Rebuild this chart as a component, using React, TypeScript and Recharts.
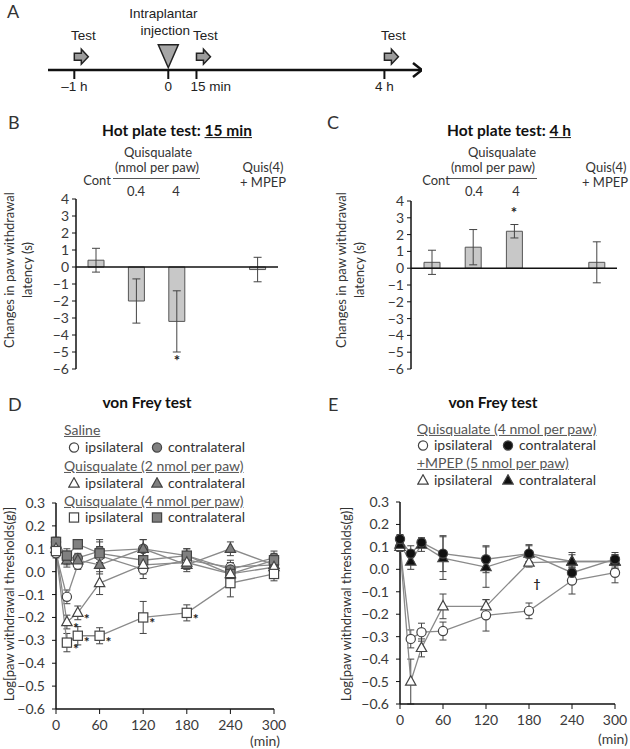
import React from "react";
import {
  ComposedChart,
  ScatterChart,
  Scatter,
  Bar,
  Line,
  XAxis,
  YAxis,
  ErrorBar,
  ReferenceLine,
} from "recharts";

// ---------- panel A: experiment timeline ----------
const TIMELINE_TICKS = [-1, 0, 0.3, 2.3];
const TIMELINE_LABELS = ["–1 h", "0", "15 min", "4 h"];
const TEST_AT = [-1, 0.3, 2.3];
const INJECTION_AT = [0];

// ---------- panels B / C: hot plate ----------
const HOT_GROUPS = ["Cont", "0.4", "4", "", "Quis(4) + MPEP"];
const HOT_TICKS = [-6, -5, -4, -3, -2, -1, 0, 1, 2, 3, 4];
const HOT15_MEAN = [0.4, -2.0, -3.2, null, -0.15];
const HOT15_SEM = [0.7, 1.3, 1.8, null, 0.72];
const HOT15_SIG = [false, false, true, false, false];
const HOT4H_MEAN = [0.35, 1.25, 2.2, null, 0.35];
const HOT4H_SEM = [0.72, 1.05, 0.4, null, 1.22];
const HOT4H_SIG = [false, false, true, false, false];

// ---------- panels D / E: von Frey ----------
const TIME_MIN = [0, 15, 30, 60, 120, 180, 240, 300];
const TIME_TICKS = [0, 60, 120, 180, 240, 300];
const VF_TICKS = [-0.6, -0.5, -0.4, -0.3, -0.2, -0.1, 0, 0.1, 0.2, 0.3];

const D_SAL_IPSI = [0.08, -0.11, 0.03, 0.07, 0.01, 0.05, 0.02, 0.03];
const D_SAL_IPSI_ERR = [0.02, 0.03, 0.02, 0.04, 0.04, 0.03, 0.03, 0.03];
const D_SAL_CONTRA = [0.13, 0.06, 0.06, 0.09, 0.1, 0.07, 0.01, 0.06];
const D_SAL_CONTRA_ERR = [0.02, 0.03, 0.02, 0.05, 0.04, 0.03, 0.03, 0.03];
const D_Q2_IPSI = [0.1, -0.22, -0.18, -0.05, 0.03, 0.04, -0.01, 0.02];
const D_Q2_IPSI_ERR = [0.02, 0.03, 0.03, 0.05, 0.04, 0.03, 0.03, 0.03];
const D_Q2_IPSI_MARK = [null, "*", "*", null, null, null, null, null];
const D_Q2_CONTRA = [0.12, 0.05, 0.05, 0.03, 0.1, 0.03, 0.1, 0.03];
const D_Q2_CONTRA_ERR = [0.02, 0.03, 0.02, 0.04, 0.04, 0.03, 0.03, 0.03];
const D_Q4_IPSI = [0.09, -0.31, -0.28, -0.28, -0.2, -0.18, -0.05, -0.01];
const D_Q4_IPSI_ERR = [0.02, 0.04, 0.04, 0.035, 0.07, 0.035, 0.06, 0.03];
const D_Q4_IPSI_MARK = [null, "*", "*", "*", "*", "*", null, null];
const D_Q4_CONTRA = [0.13, 0.07, 0.12, 0.08, 0.05, 0.07, -0.01, 0.05];
const D_Q4_CONTRA_ERR = [0.02, 0.03, 0.02, 0.05, 0.05, 0.03, 0.03, 0.03];

const E_Q4_IPSI = [0.1, -0.31, -0.28, -0.275, -0.205, -0.185, -0.05, -0.015];
const E_Q4_IPSI_ERR = [0.02, 0.04, 0.04, 0.04, 0.07, 0.035, 0.06, 0.045];
const E_Q4_CONTRA = [0.135, 0.07, 0.12, 0.07, 0.045, 0.07, -0.015, 0.045];
const E_Q4_CONTRA_ERR = [0.02, 0.035, 0.02, 0.08, 0.06, 0.035, 0.025, 0.03];
const E_MPEP_IPSI = [0.1, -0.5, -0.35, -0.165, -0.165, 0.03, 0.035, 0.035];
const E_MPEP_IPSI_ERR = [0.02, 0.1, 0.04, 0.055, 0.03, 0.02, 0.03, 0.03];
const E_MPEP_IPSI_MARK = [null, null, null, null, null, "†", null, null];
const E_MPEP_CONTRA = [0.11, 0.035, 0.11, 0.05, 0.01, 0.07, 0.035, 0.035];
const E_MPEP_CONTRA_ERR = [0.02, 0.035, 0.03, 0.095, 0.09, 0.04, 0.04, 0.03];

const FONT = "Lato, 'Open Sans', sans-serif";
const NARROW = "'Liberation Sans Narrow', 'Liberation Sans', Arial, sans-serif";
const INK = "#333";
const LINE_GRAY = "#8a8a8a";
const minus = (s: string) => s.replace("-", "−");

function T({ x, y, children, size = 13, bold = false, anchor = "middle", color = INK, underline = false, family = FONT }: any) {
  const tx = anchor === "middle" ? "-50%" : anchor === "end" ? "-100%" : "0";
  return (
    <div
      style={{
        position: "absolute",
        left: x,
        top: y,
        transform: `translate(${tx}, -50%)`,
        fontSize: size,
        fontWeight: bold ? 700 : 400,
        color,
        fontFamily: family,
        whiteSpace: "nowrap",
        lineHeight: 1.15,
        textDecoration: underline ? "underline" : undefined,
      }}
    >
      {children}
    </div>
  );
}

function VLabel({ x, y, lines, size = 13 }: any) {
  return (
    <div
      style={{
        position: "absolute",
        left: x,
        top: y,
        transform: "translate(-50%, -50%) rotate(-90deg)",
        fontSize: size,
        color: INK,
        fontFamily: FONT,
        whiteSpace: "nowrap",
        textAlign: "center",
        lineHeight: 1.35,
      }}
    >
      {lines.map((l: string, i: number) => (
        <div key={i}>{l}</div>
      ))}
    </div>
  );
}

// ---------- markers ----------
function Marker({ cx, cy, mk, fill, stroke }: any) {
  if (mk === "circle") return <circle cx={cx} cy={cy} r={4.6} fill={fill} stroke={stroke} strokeWidth={1.2} />;
  if (mk === "square")
    return <rect x={cx - 4.6} y={cy - 4.6} width={9.2} height={9.2} fill={fill} stroke={stroke} strokeWidth={1.2} />;
  return (
    <polygon
      points={`${cx},${cy - 5.8} ${cx - 5.2},${cy + 3.6} ${cx + 5.2},${cy + 3.6}`}
      fill={fill}
      stroke={stroke}
      strokeWidth={1.2}
    />
  );
}

function makeDot(mk: string, fill: string, stroke: string, marks?: (string | null)[], dx = 9, dy = 11) {
  return (p: any) => {
    const { cx, cy, index } = p;
    if (cx == null || cy == null) return <g key={`d${index}`} />;
    const m = marks ? marks[index] : null;
    return (
      <g key={`d${index}`}>
        <Marker cx={cx} cy={cy} mk={mk} fill={fill} stroke={stroke} />
        {m && (
          <text x={cx + dx} y={cy + dy} textAnchor="middle" fontSize={m === "†" ? 12 : 14} fontWeight={700} fill="#222" fontFamily={FONT}>
            {m}
          </text>
        )}
      </g>
    );
  };
}

function LegendIcon({ mk, fill }: any) {
  return (
    <svg width={12} height={12} style={{ position: "absolute", left: -6, top: -6 }}>
      <Marker cx={6} cy={6.5} mk={mk} fill={fill} stroke="#444" />
    </svg>
  );
}

function LegendItem({ x, y, mk, fill, label }: any) {
  return (
    <>
      <div style={{ position: "absolute", left: x, top: y }}>
        <LegendIcon mk={mk} fill={fill} />
      </div>
      <T x={x + 11} y={y} anchor="start" size={14}>
        {label}
      </T>
    </>
  );
}

// ---------- panel A ----------
function TestArrow(p: any) {
  const { cx, cy } = p;
  return (
    <g>
      <polygon
        points={`${cx},${cy - 3.5} ${cx + 7},${cy - 3.5} ${cx + 7},${cy - 7.5} ${cx + 14},${cy} ${cx + 7},${cy + 7.5} ${cx + 7},${cy + 3.5} ${cx},${cy + 3.5}`}
        fill="#9c9c9c"
        stroke="#222"
        strokeWidth={1.5}
      />
      <text x={cx + 9} y={cy - 17} textAnchor="middle" fontSize={13.5} fill="#222" fontFamily={NARROW}>
        Test
      </text>
    </g>
  );
}

function Injection(p: any) {
  const { cx, cy } = p;
  return (
    <g>
      <polygon points={`${cx - 10},${cy - 12} ${cx + 10},${cy - 12} ${cx},${cy + 11}`} fill="#a6a6a6" stroke="#222" strokeWidth={1.5} />
      <text x={cx - 5} y={cy - 39} textAnchor="middle" fontSize={13.5} fill="#222" fontFamily={NARROW}>
        Intraplantar
      </text>
      <text x={cx - 3} y={cy - 22} textAnchor="middle" fontSize={13.5} fill="#222" fontFamily={NARROW}>
        injection
      </text>
    </g>
  );
}

function AxisHead(p: any) {
  const { cx, cy } = p;
  return <polyline points={`${cx - 9},${cy - 7} ${cx},${cy} ${cx - 9},${cy + 7}`} fill="none" stroke="#111" strokeWidth={2.5} />;
}

function TimelineTick(p: any) {
  const { x, y, payload } = p;
  const label = TIMELINE_LABELS[TIMELINE_TICKS.indexOf(payload.value)];
  const start = label === "15 min";
  return (
    <text x={start ? x - 6 : x} y={y + 10} textAnchor={start ? "start" : "middle"} fontSize={13.5} fill="#222" fontFamily={NARROW}>
      {label}
    </text>
  );
}

function Timeline() {
  const level = 0.19;
  const tests = TEST_AT.map((t) => ({ t, v: level }));
  const inj = INJECTION_AT.map((t) => ({ t, v: level }));
  return (
    <div style={{ position: "absolute", left: 0, top: 0 }}>
      <ScatterChart width={630} height={105} margin={{ top: 0, right: 208, bottom: 5, left: 48 }}>
        <XAxis
          type="number"
          dataKey="t"
          domain={[-1.28, 2.7]}
          ticks={TIMELINE_TICKS}
          interval={0}
          allowDataOverflow
          axisLine={{ stroke: "#111", strokeWidth: 2.5 }}
          tickLine={{ stroke: "#111", strokeWidth: 2 }}
          tickSize={9}
          tick={<TimelineTick />}
        />
        <YAxis type="number" dataKey="v" domain={[0, 1]} hide />
        <Scatter data={tests} shape={(p: any) => <TestArrow {...p} />} isAnimationActive={false} />
        <Scatter data={inj} shape={(p: any) => <Injection {...p} />} isAnimationActive={false} />
        <Scatter data={[{ t: 2.7, v: 0 }]} shape={(p: any) => <AxisHead {...p} />} isAnimationActive={false} />
      </ScatterChart>
    </div>
  );
}

// ---------- panels B / C ----------
function StarDot(p: any) {
  const { cx, cy, index } = p;
  if (cx == null || cy == null) return <g key={`s${index}`} />;
  return (
    <text key={`s${index}`} x={cx} y={cy + 6} textAnchor="middle" fontSize={15} fontWeight={700} fill="#222" fontFamily={FONT}>
      *
    </text>
  );
}

function HotPlate({ left, top, width, height, margin, mean, sem, sig, starGap }: any) {
  const data = HOT_GROUPS.map((g, i) => ({
    group: g,
    mean: mean[i],
    sem: sem[i],
    star: sig[i] ? (mean[i] < 0 ? mean[i] - sem[i] - starGap : mean[i] + sem[i] + starGap) : null,
  }));
  return (
    <div style={{ position: "absolute", left, top }}>
      <ComposedChart width={width} height={height} data={data} margin={margin}>
        <XAxis dataKey="group" type="category" hide />
        <YAxis
          type="number"
          domain={[-6, 4]}
          ticks={HOT_TICKS}
          interval={0}
          width={30}
          tickFormatter={(v: number) => minus(String(v))}
          axisLine={{ stroke: "#111", strokeWidth: 1.5 }}
          tickLine={{ stroke: "#111" }}
          tickSize={4}
          tickMargin={3}
          tick={{ fontSize: 14, fill: "#3a3a3a", fontFamily: FONT }}
        />
        <Bar dataKey="mean" barSize={16} fill="#c8c8c8" stroke="#555" strokeWidth={1} isAnimationActive={false}>
          <ErrorBar dataKey="sem" width={4} stroke="#444" strokeWidth={1} direction="y" />
        </Bar>
        <ReferenceLine y={0} stroke="#111" strokeWidth={1.5} />
        <Line dataKey="star" stroke="none" dot={StarDot} activeDot={false} isAnimationActive={false} />
      </ComposedChart>
    </div>
  );
}

// ---------- panels D / E ----------
function VonFrey({ left, top, width, height, margin, series }: any) {
  const data = TIME_MIN.map((t, i) => {
    const row: any = { t };
    series.forEach((s: any) => {
      row[s.key] = s.values[i];
      row[s.key + "E"] = s.err[i];
    });
    return row;
  });
  return (
    <div style={{ position: "absolute", left, top }}>
      <ComposedChart width={width} height={height} data={data} margin={margin}>
        <XAxis
          type="number"
          dataKey="t"
          domain={[0, 300]}
          ticks={TIME_TICKS}
          interval={0}
          axisLine={{ stroke: "#111", strokeWidth: 1.5 }}
          tickLine={{ stroke: "#111" }}
          tickSize={5}
          tickMargin={6}
          tick={{ fontSize: 14, fill: "#3a3a3a", fontFamily: FONT }}
        />
        <YAxis
          type="number"
          domain={[-0.6, 0.3]}
          ticks={VF_TICKS}
          interval={0}
          width={40}
          tickFormatter={(v: number) => minus(v.toFixed(1))}
          axisLine={{ stroke: "#111", strokeWidth: 1.5 }}
          tickLine={{ stroke: "#111" }}
          tickSize={4}
          tickMargin={7}
          tick={{ fontSize: 14, fill: "#3a3a3a", fontFamily: FONT }}
        />
        {series.map((s: any) => (
          <Line
            key={s.key}
            dataKey={s.key}
            stroke={LINE_GRAY}
            strokeWidth={1.3}
            dot={makeDot(s.mk, s.fill, "#444", s.marks, s.mdx, s.mdy)}
            activeDot={false}
            isAnimationActive={false}
          >
            <ErrorBar dataKey={s.key + "E"} width={3.5} stroke="#444" strokeWidth={1} direction="y" />
          </Line>
        ))}
      </ComposedChart>
    </div>
  );
}

const D_SERIES = [
  { key: "si", values: D_SAL_IPSI, err: D_SAL_IPSI_ERR, mk: "circle", fill: "#fff" },
  { key: "sc", values: D_SAL_CONTRA, err: D_SAL_CONTRA_ERR, mk: "circle", fill: "#808080" },
  { key: "q2c", values: D_Q2_CONTRA, err: D_Q2_CONTRA_ERR, mk: "triangle", fill: "#808080" },
  { key: "q4c", values: D_Q4_CONTRA, err: D_Q4_CONTRA_ERR, mk: "square", fill: "#808080" },
  { key: "q2i", values: D_Q2_IPSI, err: D_Q2_IPSI_ERR, mk: "triangle", fill: "#fff", marks: D_Q2_IPSI_MARK },
  { key: "q4i", values: D_Q4_IPSI, err: D_Q4_IPSI_ERR, mk: "square", fill: "#fff", marks: D_Q4_IPSI_MARK },
];

const E_SERIES = [
  { key: "qi", values: E_Q4_IPSI, err: E_Q4_IPSI_ERR, mk: "circle", fill: "#fff" },
  { key: "mi", values: E_MPEP_IPSI, err: E_MPEP_IPSI_ERR, mk: "triangle", fill: "#fff", marks: E_MPEP_IPSI_MARK, mdx: 8, mdy: 25 },
  { key: "mc", values: E_MPEP_CONTRA, err: E_MPEP_CONTRA_ERR, mk: "triangle", fill: "#111" },
  { key: "qc", values: E_Q4_CONTRA, err: E_Q4_CONTRA_ERR, mk: "circle", fill: "#111" },
];

export default function App() {
  return (
    <div style={{ position: "relative", width: 630, height: 749, background: "#fff", overflow: "hidden", fontFamily: FONT }}>
      <style>{"body{margin:0}"}</style>

      {/* A */}
      <T x={7} y={11} anchor="start" size={18}>A</T>
      <Timeline />

      {/* B */}
      <T x={8} y={122} anchor="start" size={18}>B</T>
      <T x={177} y={131} size={15.5} bold color="#111">
        Hot plate test: <span style={{ textDecoration: "underline" }}>15 min</span>
      </T>
      <T x={158} y={152}>Quisqualate</T>
      <T x={157} y={167}>(nmol per paw)</T>
      <div style={{ position: "absolute", left: 113, top: 178, width: 87, height: 1, background: "#555" }} />
      <T x={97} y={180}>Cont</T>
      <T x={136} y={191}>0.4</T>
      <T x={176} y={191}>4</T>
      <T x={263} y={167}>Quis(4)</T>
      <T x={263} y={182}>+ MPEP</T>
      <VLabel x={19} y={270} lines={["Changes in paw withdrawal", "latency (s)"]} />
      <HotPlate
        left={0}
        top={190}
        width={300}
        height={190}
        margin={{ top: 9, right: 22, bottom: 11, left: 46 }}
        mean={HOT15_MEAN}
        sem={HOT15_SEM}
        sig={HOT15_SIG}
        starGap={0.45}
      />

      {/* C */}
      <T x={327} y={122} anchor="start" size={18}>C</T>
      <T x={509} y={131} size={15.5} bold color="#111">
        Hot plate test: <span style={{ textDecoration: "underline" }}>4 h</span>
      </T>
      <T x={502} y={152}>Quisqualate</T>
      <T x={493} y={167}>(nmol per paw)</T>
      <div style={{ position: "absolute", left: 448, top: 178, width: 89, height: 1, background: "#555" }} />
      <T x={436} y={180}>Cont</T>
      <T x={474} y={191}>0.4</T>
      <T x={516} y={191}>4</T>
      <T x={606} y={167}>Quis(4)</T>
      <T x={605} y={182}>+ MPEP</T>
      <VLabel x={351} y={270} lines={["Changes in paw withdrawal", "latency (s)"]} />
      <HotPlate
        left={320}
        top={190}
        width={310}
        height={190}
        margin={{ top: 11, right: 13, bottom: 11, left: 61 }}
        mean={HOT4H_MEAN}
        sem={HOT4H_SEM}
        sig={HOT4H_SIG}
        starGap={0.75}
      />

      {/* D */}
      <T x={8} y={404} anchor="start" size={18}>D</T>
      <T x={147} y={403} size={15.5} bold color="#111">von Frey test</T>
      <T x={64} y={430} anchor="start" size={14} underline color="#555">Saline</T>
      <LegendItem x={74} y={447} mk="circle" fill="#fff" label="ipsilateral" />
      <LegendItem x={157} y={447} mk="circle" fill="#808080" label="contralateral" />
      <T x={64} y={466} anchor="start" size={14} underline color="#555">Quisqualate (2 nmol per paw)</T>
      <LegendItem x={74} y={483} mk="triangle" fill="#fff" label="ipsilateral" />
      <LegendItem x={157} y={483} mk="triangle" fill="#808080" label="contralateral" />
      <T x={64} y={501} anchor="start" size={14} underline color="#555">Quisqualate (4 nmol per paw)</T>
      <LegendItem x={74} y={517} mk="square" fill="#fff" label="ipsilateral" />
      <LegendItem x={157} y={517} mk="square" fill="#808080" label="contralateral" />
      <VLabel x={10} y={604} lines={["Log[paw withdrawal thresholds(g)]"]} />
      <VonFrey left={0} top={490} width={300} height={259} margin={{ top: 13, right: 26, bottom: 10, left: 16 }} series={D_SERIES} />
      <T x={265} y={741} size={14} color="#3a3a3a">(min)</T>

      {/* E */}
      <T x={328} y={404} anchor="start" size={18}>E</T>
      <T x={493} y={403} size={15.5} bold color="#111">von Frey test</T>
      <T x={417} y={429} anchor="start" size={14} underline color="#555">Quisqualate (4 nmol per paw)</T>
      <LegendItem x={423} y={445} mk="circle" fill="#fff" label="ipsilateral" />
      <LegendItem x={508} y={445} mk="circle" fill="#111" label="contralateral" />
      <T x={417} y={463} anchor="start" size={14} underline color="#555">+MPEP (5 nmol per paw)</T>
      <LegendItem x={423} y={480} mk="triangle" fill="#fff" label="ipsilateral" />
      <LegendItem x={508} y={480} mk="triangle" fill="#111" label="contralateral" />
      <VLabel x={347} y={604} lines={["Log[paw withdrawal thresholds(g)]"]} />
      <VonFrey left={320} top={490} width={310} height={259} margin={{ top: 12, right: 15, bottom: 15, left: 40 }} series={E_SERIES} />
      <T x={613} y={739} size={14} color="#3a3a3a">(min)</T>
    </div>
  );
}
